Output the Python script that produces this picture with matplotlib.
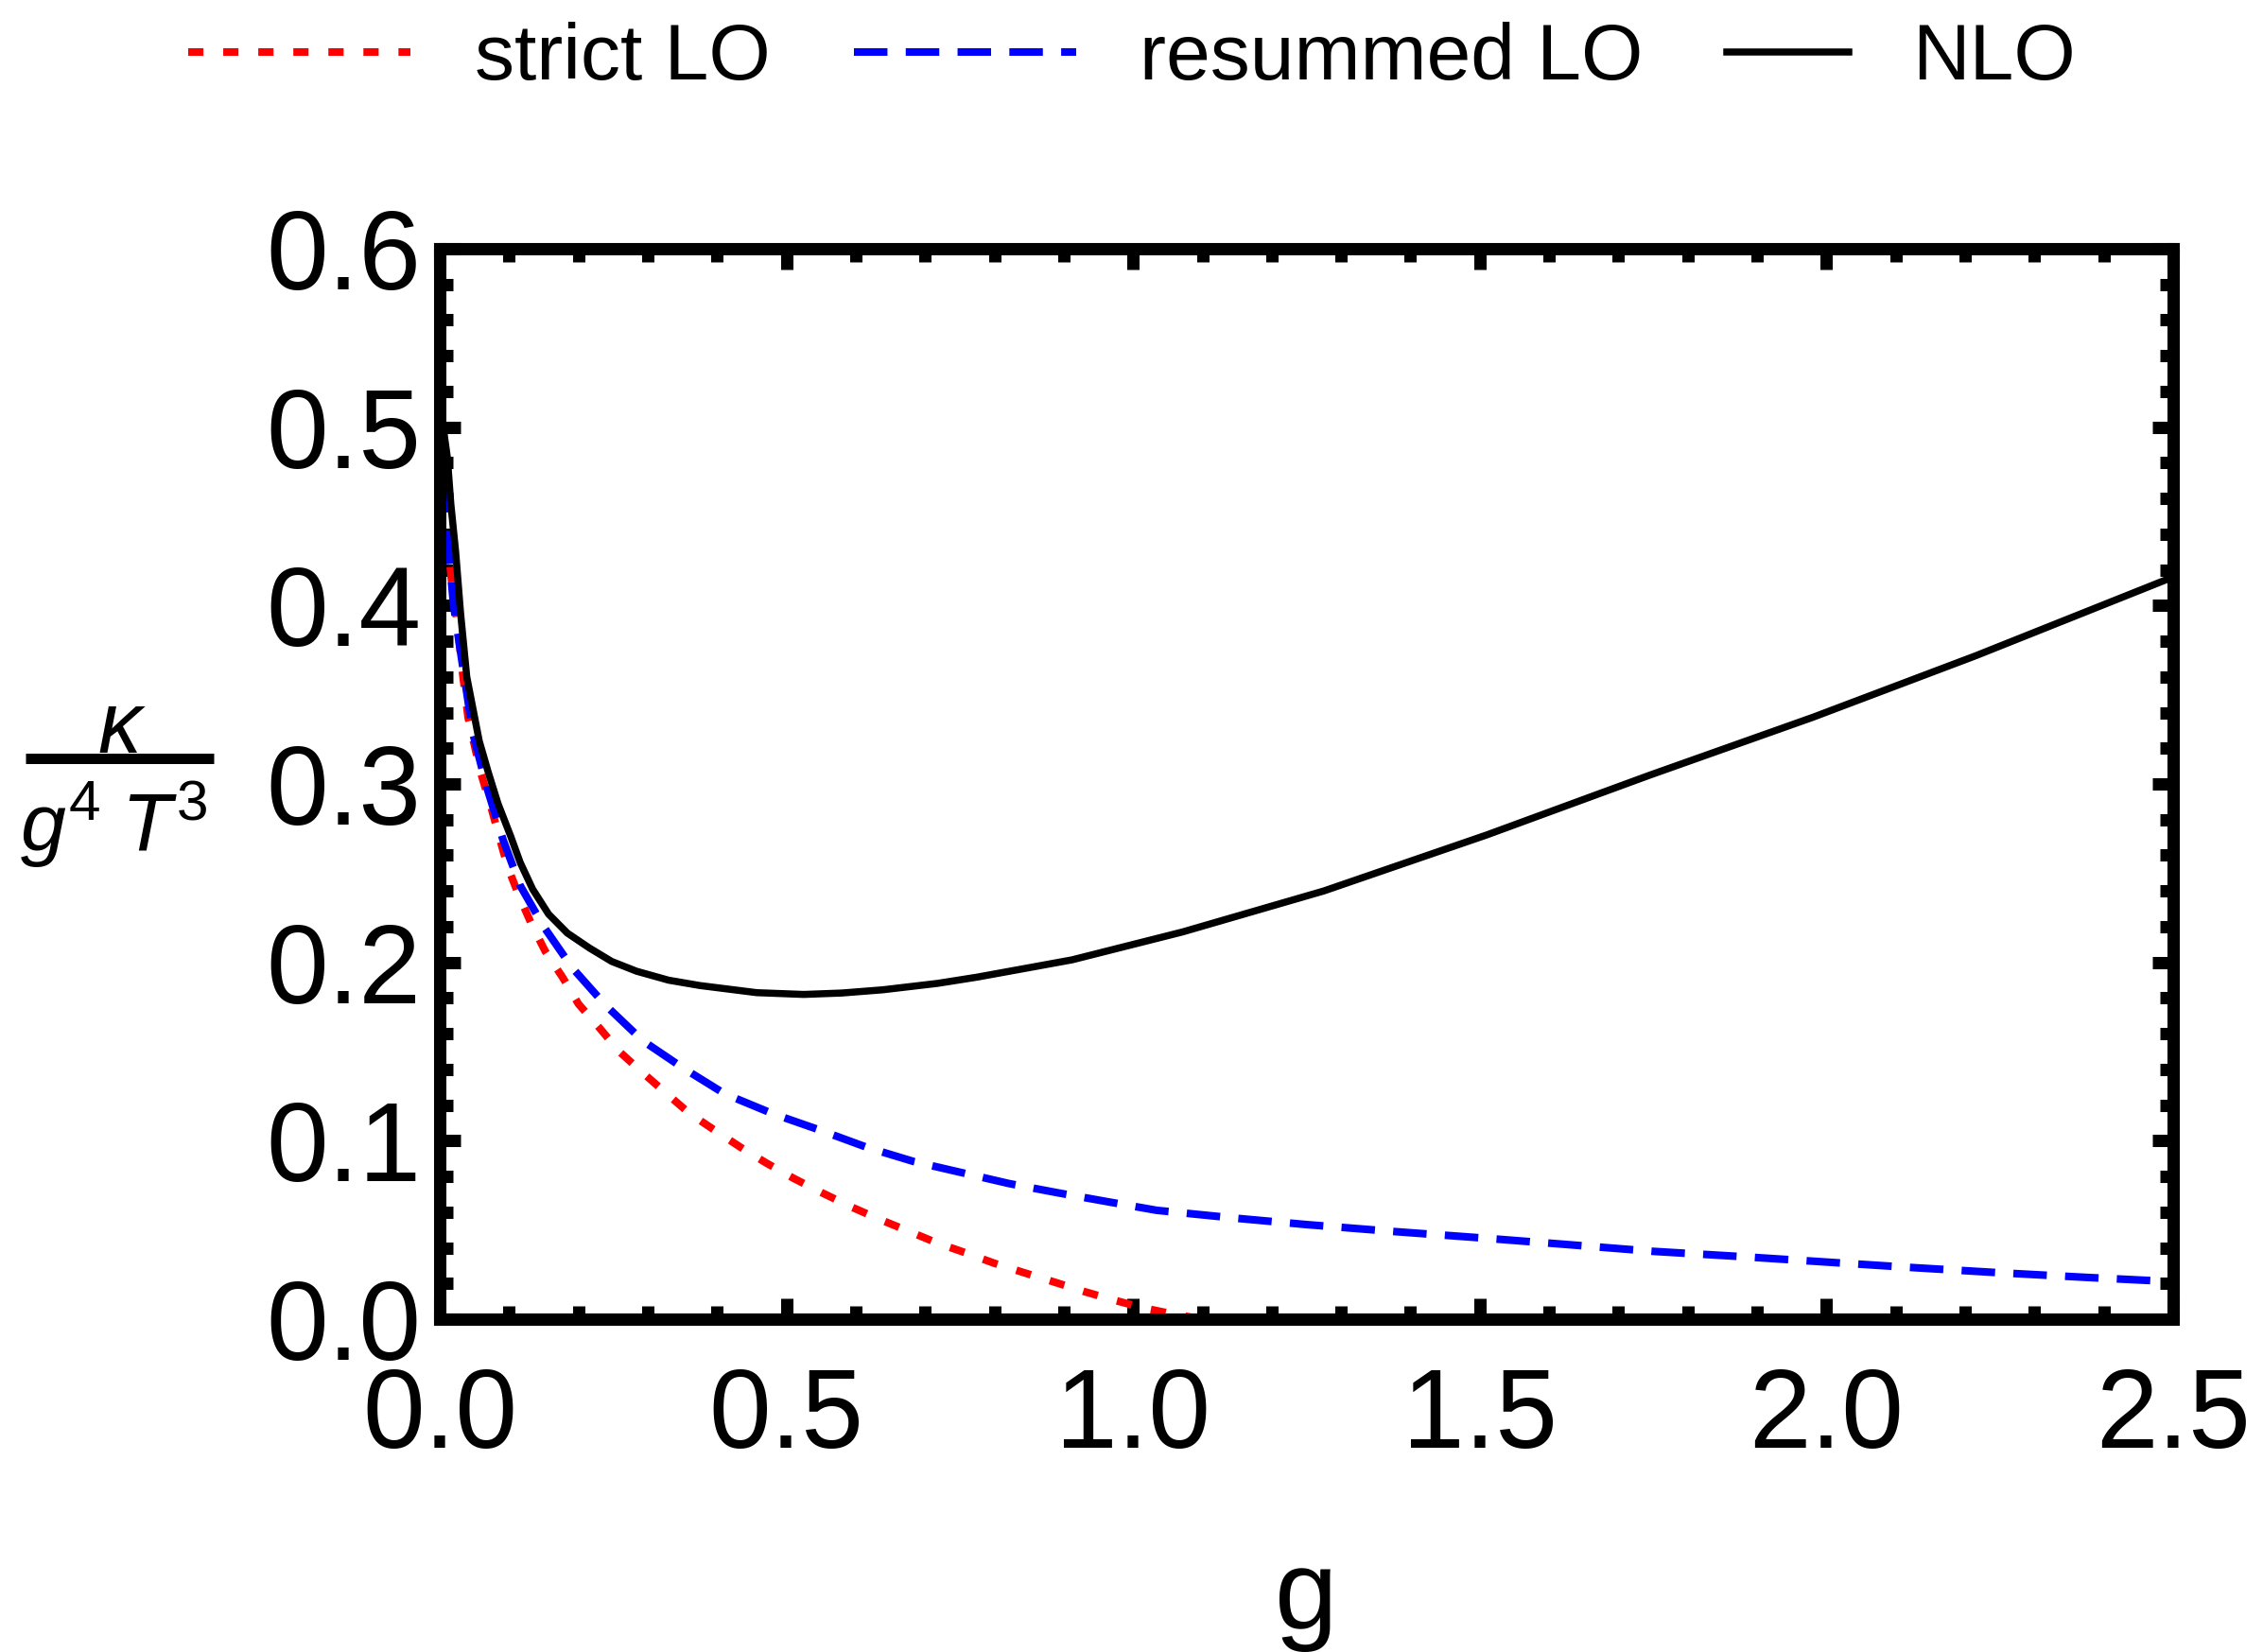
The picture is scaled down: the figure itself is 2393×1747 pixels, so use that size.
import matplotlib
matplotlib.use("Agg")
import matplotlib.pyplot as plt
from matplotlib.lines import Line2D
from matplotlib.legend_handler import HandlerLine2D
from matplotlib.ticker import MultipleLocator, FormatStrFormatter

plt.rcParams["font.family"] = ["Liberation Sans", "DejaVu Sans"]
plt.rcParams["mathtext.fontset"] = "custom"
plt.rcParams["mathtext.rm"] = "Liberation Sans"
plt.rcParams["mathtext.it"] = "Liberation Sans:italic"

# kappa / (g^4 T^3) against the coupling g
g_strict = [0.004, 0.008, 0.013, 0.018, 0.025, 0.033, 0.041, 0.059, 0.074, 0.086, 0.098,
            0.114, 0.132, 0.152, 0.177, 0.200, 0.230, 0.259, 0.291, 0.325, 0.359,
            0.396, 0.434, 0.471, 0.511, 0.552, 0.593, 0.634, 0.675, 0.716, 0.759,
            0.800, 0.843, 0.887, 0.930, 0.973, 1.016, 1.062, 1.100]
kappa_strict = [0.500, 0.468, 0.430, 0.410, 0.391, 0.362, 0.337, 0.3065, 0.287, 0.270, 0.2535,
                0.2376, 0.2217, 0.2063, 0.1917, 0.1767, 0.1634, 0.150, 0.1387, 0.1272, 0.1157,
                0.106, 0.0963, 0.0875, 0.0788, 0.0707, 0.063, 0.056, 0.0495, 0.0429, 0.0371,
                0.0313, 0.026, 0.0207, 0.0154, 0.0106, 0.0062, 0.0025, 0.0]

g_resummed = [0.004, 0.008, 0.013, 0.020, 0.030, 0.048, 0.068, 0.091, 0.116, 0.150,
              0.191, 0.239, 0.293, 0.352, 0.411, 0.480, 0.548, 0.616, 0.684, 0.752,
              0.821, 0.893, 0.962, 1.034, 1.15, 1.25, 1.38, 1.50, 1.62, 1.75, 1.88,
              2.00, 2.12, 2.25, 2.37, 2.50]
kappa_resummed = [0.500, 0.470, 0.430, 0.400, 0.374, 0.328, 0.298, 0.269, 0.243, 0.220,
                  0.197, 0.176, 0.156, 0.1405, 0.1263, 0.1152, 0.106, 0.0963, 0.0883, 0.0822,
                  0.0760, 0.0707, 0.0659, 0.0610, 0.0565, 0.053, 0.049, 0.0456, 0.042, 0.038,
                  0.035, 0.032, 0.029, 0.026, 0.0235, 0.021]

g_nlo = [0.005, 0.011, 0.016, 0.023, 0.030, 0.039, 0.057, 0.070, 0.084, 0.102, 0.116,
         0.134, 0.157, 0.184, 0.216, 0.248, 0.284, 0.330, 0.375, 0.457, 0.525, 0.58,
         0.639, 0.718, 0.775, 0.85, 0.912, 1.071, 1.275, 1.510, 1.745, 1.980, 2.215, 2.500]
kappa_nlo = [0.500, 0.483, 0.457, 0.430, 0.396, 0.360, 0.324, 0.3065, 0.289, 0.271, 0.256,
             0.241, 0.227, 0.2164, 0.208, 0.2005, 0.195, 0.190, 0.187, 0.183, 0.182, 0.1828,
             0.1846, 0.1882, 0.1917, 0.197, 0.2014, 0.2170, 0.240, 0.2714, 0.3049, 0.3373,
             0.3718, 0.416]


class ShortLine(HandlerLine2D):
    # solid sample in the legend is drawn shorter than the dashed ones
    def legend_artist(self, legend, orig_handle, fontsize, handlebox):
        handlebox.width *= 0.55
        return super().legend_artist(legend, orig_handle, fontsize, handlebox)


W, H = 2393, 1747
fig = plt.figure(figsize=(W / 100, H / 100), dpi=100)
ax = fig.add_axes([465 / W, 1 - 1395 / H, (2298 - 465) / W, (1395 - 263) / H])

l_strict, = ax.plot(g_strict, kappa_strict, color="#ff0000", lw=5.8,
                    dashes=(2.0, 2.6), label="strict LO")
l_res, = ax.plot(g_resummed, kappa_resummed, color="#0000ff", lw=5.8,
                 dashes=(4.4, 2.4), label="resummed LO")
l_nlo, = ax.plot(g_nlo, kappa_nlo, color="black", lw=5.4, label="NLO")

ax.set_xlim(0, 2.5)
ax.set_ylim(0, 0.6)
ax.xaxis.set_major_locator(MultipleLocator(0.5))
ax.xaxis.set_minor_locator(MultipleLocator(0.1))
ax.yaxis.set_major_locator(MultipleLocator(0.1))
ax.yaxis.set_minor_locator(MultipleLocator(0.02))
ax.xaxis.set_major_formatter(FormatStrFormatter("%.1f"))
ax.yaxis.set_major_formatter(FormatStrFormatter("%.1f"))

for s in ax.spines.values():
    s.set_linewidth(9.4)
ax.tick_params(which="both", direction="in", top=True, right=True, width=9.4)
ax.tick_params(which="major", length=16, labelsize=85)
ax.tick_params(which="minor", length=10)
ax.tick_params(axis="x", which="major", pad=36)
ax.tick_params(axis="y", which="major", pad=14)

ax.set_xlabel("g", fontsize=86)
ax.xaxis.set_label_coords(0.5, (1395 - 1722) / (1395 - 263))
ax.xaxis.label.set_va("baseline")

# y label as a stacked fraction: kappa over g^4 T^3
fig.text(126 / W, 1 - 796 / H, "κ", style="italic", fontsize=66,
         ha="center", va="baseline")
fig.add_artist(Line2D([27 / W, 226 / W], [1 - 802 / H, 1 - 802 / H],
                      transform=fig.transFigure, color="black", lw=7.9,
                      solid_capstyle="butt"))
fig.text(120 / W, 1 - 900 / H, r"$g^4\;T^3$", fontsize=62,
         ha="center", va="baseline")

fig.legend(handles=[l_strict, l_res, l_nlo], loc="center",
           bbox_to_anchor=(1197 / W, 1 - 62 / H), ncol=3, frameon=False,
           fontsize=60.5, handlelength=2.8, handletextpad=0.8,
           columnspacing=1.05, borderpad=0, borderaxespad=0,
           handler_map={l_nlo: ShortLine()})

fig.savefig("out.png", dpi=100)
